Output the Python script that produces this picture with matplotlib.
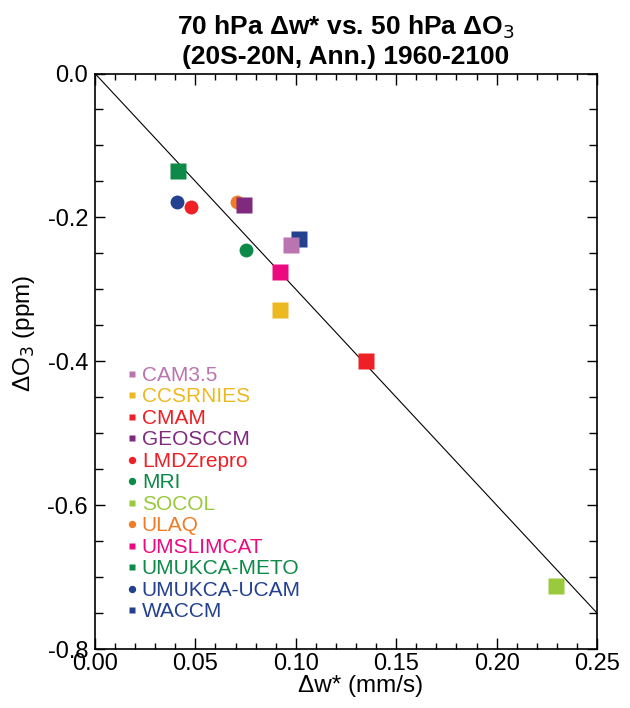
import matplotlib
matplotlib.use("Agg")
import matplotlib.pyplot as plt
from matplotlib.ticker import MultipleLocator, FormatStrFormatter
from matplotlib.lines import Line2D

plt.rcParams['font.family'] = ['Liberation Sans', 'DejaVu Sans']

models = ["CAM3.5", "CCSRNIES", "CMAM", "GEOSCCM", "LMDZrepro", "MRI", "SOCOL",
          "ULAQ", "UMSLIMCAT", "UMUKCA-METO", "UMUKCA-UCAM", "WACCM"]
dw = [0.0978, 0.0923, 0.1352, 0.0744, 0.0478, 0.0752, 0.2295,
      0.0705, 0.0923, 0.0414, 0.0408, 0.1018]
do3 = [-0.238, -0.329, -0.399, -0.183, -0.186, -0.246, -0.712,
       -0.179, -0.276, -0.136, -0.179, -0.230]
markers = ["s", "s", "s", "s", "o", "o", "s", "o", "s", "s", "o", "s"]
colors = ["#BA75B0", "#EDB921", "#EE2025", "#7F2A7E", "#EE2025", "#0D8A48", "#99C93C",
          "#F07C25", "#EC0A80", "#0D8A48", "#24418F", "#24418F"]
line_x = [0.0, 0.25]
line_y = [0.0, -0.75]

fig = plt.figure(figsize=(6.3, 7.08), dpi=100)
ax = fig.add_axes([95/630, 1-649/708, (597-95)/630, (649-73.5)/708])

ax.plot(line_x, line_y, color="black", lw=0.8, zorder=2)

for i in reversed(range(len(models))):
    ms = 11.5 if markers[i] == "s" else 10
    ax.plot(dw[i], do3[i], marker=markers[i], ms=ms, color=colors[i],
            mec="none", ls="none", zorder=3)

handles = []
for i in range(len(models)):
    ms = 5.0 if markers[i] == "s" else 5.3
    handles.append(Line2D([], [], marker=markers[i], ms=ms, color=colors[i],
                          mec="none", ls="none"))
leg = ax.legend(handles, models, loc="upper left", bbox_to_anchor=(0.063, 0.492),
                frameon=False, fontsize=15, handlelength=0.5, handletextpad=0.23,
                labelspacing=0.12, borderaxespad=0, borderpad=0)
for t, c in zip(leg.get_texts(), colors):
    t.set_color(c)

ax.set_xlim(0, 0.25)
ax.set_ylim(-0.8, 0.0)
ax.xaxis.set_major_locator(MultipleLocator(0.05))
ax.xaxis.set_minor_locator(MultipleLocator(0.01))
ax.yaxis.set_major_locator(MultipleLocator(0.2))
ax.yaxis.set_minor_locator(MultipleLocator(0.05))
ax.xaxis.set_major_formatter(FormatStrFormatter("%.2f"))
ax.yaxis.set_major_formatter(FormatStrFormatter("%.1f"))

ax.tick_params(which="both", direction="in", top=True, right=True, width=1.0,
               labelsize=17)
ax.tick_params(axis="x", which="major", length=8, pad=3)
ax.tick_params(axis="x", which="minor", length=4)
ax.tick_params(axis="y", which="major", length=7.5, pad=5)
ax.tick_params(axis="y", which="minor", length=6)
for s in ax.spines.values():
    s.set_linewidth(1.2)

ax.set_xlabel("\u0394w* (mm/s)", fontsize=17.5, va="top")
ax.xaxis.set_label_coords(0.53, -0.045)
ax.set_ylabel("\u0394O$_3$ (ppm)", fontsize=17.5)
ax.yaxis.set_label_coords(-0.1155, 0.549)
ax.set_title("70 hPa \u0394w* vs. 50 hPa \u0394O$_3$\n(20S-20N, Ann.) 1960-2100",
             fontsize=19, fontweight="bold", pad=7, linespacing=1.2)

fig.savefig("out.png", dpi=100)
